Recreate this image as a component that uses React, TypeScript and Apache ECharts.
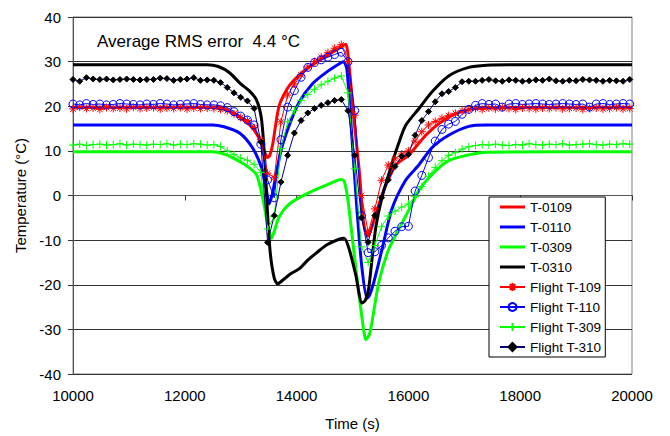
import React, { useEffect, useRef } from "react";
import * as echarts from "echarts";

// ---- Data ----
const X_TICKS = [10000, 12000, 14000, 16000, 18000, 20000];
const Y_TICKS = [-40, -30, -20, -10, 0, 10, 20, 30, 40];

// Model curves [time (s), temperature (°C)]
const T0109: [number, number][] = [
  [10000, 19.8], [12500, 19.8], [12700, 19.4], [12950, 17.8], [13160, 15.8], [13300, 13.5],
  [13420, 10.0], [13480, 8.5], [13520, 9.0], [13570, 11.3], [13690, 20.2], [13870, 24.6],
  [14170, 28.3], [14530, 31.2], [14810, 33.4], [14880, 33.9], [14940, 29.0], [15030, 16.6],
  [15120, 5.6], [15200, -6.3], [15270, -9.1], [15320, -8.0], [15420, -4.1], [15560, 1.2],
  [15780, 6.9], [16010, 9.1], [16310, 13.5], [16600, 16.6], [16950, 18.8], [17300, 19.6],
  [20000, 19.8],
];
const T0110: [number, number][] = [
  [10000, 15.8], [12500, 15.8], [12700, 15.4], [12980, 14.0], [13210, 10.7], [13370, 6.3],
  [13460, 1.2], [13510, -1.9], [13560, 0.0], [13600, 2.5], [13720, 10.0], [13870, 15.8],
  [14050, 21.0], [14280, 25.0], [14530, 27.6], [14800, 29.8], [14840, 30.0], [14900, 28.3],
  [14990, 12.9], [15080, -3.2], [15170, -16.4], [15260, -23.0], [15300, -22.5], [15380, -19.5],
  [15530, -12.0], [15700, -3.2], [15950, 3.4], [16190, 6.9], [16420, 10.7], [16720, 13.5],
  [17080, 15.5], [17400, 15.8], [20000, 15.8],
];
const T0309: [number, number][] = [
  [10000, 9.8], [12500, 9.8], [12700, 9.3], [12850, 8.5], [13100, 6.7], [13280, 4.7],
  [13390, -0.3], [13480, -6.3], [13550, -9.6], [13600, -8.0], [13690, -4.7], [13870, -1.9],
  [14170, 0.3], [14530, 2.3], [14800, 3.6], [14850, 3.2], [14900, 0.5], [14940, -3.2],
  [15060, -16.4], [15170, -27.4], [15240, -32.3], [15300, -31.2], [15350, -28.3], [15470, -19.5],
  [15650, -12.0], [15880, -6.3], [16040, -2.5], [16190, 1.2], [16420, 4.7], [16720, 7.8],
  [17080, 9.1], [17400, 9.7], [20000, 9.8],
];
const T0310: [number, number][] = [
  [10000, 29.3], [12400, 29.3], [12600, 28.9], [12800, 27.5], [13000, 25.0], [13150, 23.5],
  [13280, 21.5], [13370, 17.3], [13430, 8.0], [13480, -4.0], [13530, -13.0], [13600, -18.5],
  [13660, -19.8], [13750, -19.0], [13900, -17.5], [14050, -16.4], [14200, -14.5], [14350, -12.9],
  [14550, -11.0], [14760, -9.8], [14850, -9.6], [14940, -12.0], [15060, -17.9], [15170, -24.1],
  [15230, -23.5], [15290, -20.8], [15360, -13.0], [15420, -6.9], [15530, -0.3], [15700, 6.9],
  [15820, 11.5], [15950, 15.7], [16190, 19.5], [16420, 23.2], [16720, 26.8], [17080, 28.7],
  [17400, 29.2], [17800, 29.3], [20000, 29.3],
];

// Flight measurements, sampled times (s)
const FLIGHT_TIME = [
  10000, 10120, 10240, 10360, 10480, 10600, 10720, 10840, 10960, 11080,
  11200, 11320, 11440, 11560, 11680, 11800, 11920, 12040, 12160, 12280,
  12400, 12520, 12640, 12760, 12880, 13000, 13120, 13240, 13360, 13480,
  13600, 13720, 13840, 13960, 14080, 14200, 14320, 14440, 14560, 14680,
  14800, 14920, 15040, 15160, 15280, 15400, 15520, 15640, 15760, 15880,
  16000, 16120, 16240, 16360, 16480, 16600, 16720, 16840, 16960, 17080,
  17200, 17320, 17440, 17560, 17680, 17800, 17920, 18040, 18160, 18280,
  18400, 18520, 18640, 18760, 18880, 19000, 19120, 19240, 19360, 19480,
  19600, 19720, 19840, 19960,
];
const FLIGHT_T109 = [
  19.4, 19.8, 19.5, 19.6, 19.3, 19.7, 19.5, 19.6, 19.4, 19.8,
  19.5, 19.6, 19.7, 19.4, 19.6, 19.5, 19.7, 19.4, 19.6, 19.5,
  19.6, 19.5, 19.3, 19.0, 18.3, 17.5, 16.8, 15.2, 12.5, 5.0,
  4.0, 16.5, 22.5, 25.0, 27.0, 28.8, 30.0, 31.0, 32.0, 33.0,
  33.8, 30.0, 18.0, 0.0, -8.3, -3.0, 3.4, 6.8, 8.2, 9.3,
  10.0, 12.2, 14.3, 15.8, 16.6, 17.3, 17.9, 18.4, 19.0, 19.3,
  19.5, 19.3, 19.6, 19.4, 19.7, 19.5, 19.3, 19.6, 19.5, 19.4,
  19.6, 19.5, 19.7, 19.4, 19.5, 19.6, 19.3, 19.5, 19.6, 19.4,
  19.5, 19.7, 19.4, 19.5,
];
const FLIGHT_T110 = [
  20.5, 20.3, 20.6, 20.4, 20.5, 20.3, 20.4, 20.6, 20.5, 20.4,
  20.3, 20.5, 20.4, 20.6, 20.5, 20.3, 20.4, 20.5, 20.6, 20.4,
  20.3, 20.3, 20.1, 19.7, 18.8, 17.8, 16.9, 15.8, 11.5, 3.5,
  -0.5, 12.5, 19.8, 23.5, 26.5, 28.7, 29.8, 30.4, 31.0, 31.6,
  32.1, 30.0, 19.0, -4.5, -12.8, -12.6, -11.2, -9.5, -8.0, -7.0,
  -6.9, 1.0, 4.5, 8.5, 12.2, 14.8, 16.0, 16.6, 18.2, 19.3,
  20.2, 20.6, 20.4, 20.5, 19.8, 20.5, 20.6, 20.4, 20.5, 20.6,
  20.5, 20.4, 20.5, 20.6, 20.5, 20.4, 20.5, 19.8, 20.5, 20.6,
  20.4, 20.5, 20.6, 20.5,
];
const FLIGHT_T309 = [
  11.3, 11.5, 11.2, 11.4, 11.5, 11.3, 11.4, 11.6, 11.3, 11.5,
  11.4, 11.3, 11.5, 11.4, 11.6, 11.3, 11.5, 11.4, 11.6, 11.5,
  11.3, 11.4, 11.0, 10.0, 9.2, 8.4, 7.9, 7.0, 5.2, -7.5,
  -4.7, 10.5, 16.5, 19.0, 21.3, 22.6, 23.8, 24.8, 25.6, 26.3,
  26.8, 23.0, 6.0, -11.5, -15.0, -11.2, -7.0, -4.6, -3.5, -2.6,
  -1.9, -0.2, 2.0, 4.3, 6.3, 7.8, 9.0, 9.6, 10.4, 10.9,
  11.2, 11.4, 11.3, 11.5, 11.3, 11.2, 11.4, 11.3, 11.6, 11.4,
  11.3, 11.5, 11.4, 11.6, 11.3, 11.4, 11.5, 11.6, 11.4, 11.3,
  11.5, 11.4, 11.6, 11.5,
];
const FLIGHT_T310 = [
  26.0, 25.6, 26.4, 26.1, 26.0, 26.1, 25.9, 26.0, 26.1, 26.0,
  25.9, 26.0, 26.0, 26.3, 26.2, 25.8, 26.0, 26.1, 26.4, 25.8,
  25.9, 25.8, 25.3, 24.2, 23.0, 22.0, 21.2, 19.5, 12.0, -10.5,
  -4.5, 3.0, 9.0, 14.0, 16.8, 18.5, 19.5, 20.2, 20.8, 21.3,
  21.5, 19.0, 9.0, -5.0, -10.5, -4.5, -0.5, 3.5, 6.5, 8.8,
  9.2, 13.5, 16.8, 18.8, 21.0, 22.8, 23.3, 24.2, 25.5, 25.6,
  25.6, 25.8, 26.0, 25.7, 25.6, 25.9, 25.8, 25.6, 25.7, 25.9,
  25.8, 26.1, 25.7, 25.6, 25.8, 25.7, 26.0, 25.9, 25.8, 25.6,
  25.8, 25.7, 25.6, 26.0,
];

const FONT = '"Liberation Sans", Arial, sans-serif';
const STAR = "path://M0,5L10,5M5,0L5,10M1.5,1.5L8.5,8.5M8.5,1.5L1.5,8.5";
const PLUS = "path://M0,5L10,5M5,0L5,10";
const LINE_ICON = "path://M0,0H25V3H0Z";

const pair = (vals: number[]) => FLIGHT_TIME.map((t, i) => [t, vals[i]]);

export default function App() {
  const ref = useRef<HTMLDivElement>(null);
  useEffect(() => {
    if (!ref.current) return;
    const chart = echarts.init(ref.current, undefined, { renderer: "svg" });
    const model = (name: string, data: any, color: string) => ({
      name,
      type: "line",
      data,
      symbol: "none",
      smooth: 0.25,
      lineStyle: { color, width: 3 },
      itemStyle: { color },
      emphasis: { disabled: true },
    });
    const flight = (name: string, vals: number[], color: string, lineColor: string, symbol: string, size: number, fill: string) => ({
      name,
      type: "line",
      data: pair(vals),
      symbol,
      symbolSize: size,
      showAllSymbol: true,
      lineStyle: { color: lineColor, width: 1 },
      itemStyle: { color: fill, borderColor: color, borderWidth: 1 },
      emphasis: { disabled: true },
    });
    chart.setOption({
      animation: false,
      backgroundColor: "#fff",
      textStyle: { fontFamily: FONT },
      grid: {
        left: 73, right: 38, top: 17, bottom: 56,
        show: true, borderColor: "#808080", borderWidth: 1,
      },
      xAxis: {
        type: "value",
        min: X_TICKS[0],
        max: X_TICKS[X_TICKS.length - 1],
        interval: 2000,
        name: "Time (s)",
        nameLocation: "middle",
        nameGap: 42,
        nameTextStyle: { fontSize: 15, color: "#000", fontFamily: FONT },
        axisLine: { lineStyle: { color: "#555", width: 1 } },
        axisTick: { show: true, length: 5, lineStyle: { color: "#333" } },
        axisLabel: {
          fontSize: 15, color: "#000", margin: 14, fontFamily: FONT,
          formatter: (v: number) => String(v),
        },
        splitLine: { show: false },
      },
      yAxis: {
        type: "value",
        min: Y_TICKS[0],
        max: Y_TICKS[Y_TICKS.length - 1],
        interval: 10,
        name: "Temperature (°C)",
        nameLocation: "middle",
        nameGap: 40,
        nameRotate: 90,
        nameTextStyle: { fontSize: 15, color: "#000", fontFamily: FONT },
        axisLine: { show: true, lineStyle: { color: "#555", width: 1 } },
        axisTick: { show: true, length: 5, lineStyle: { color: "#333" } },
        axisLabel: { fontSize: 15, color: "#000", margin: 12, fontFamily: FONT },
        splitLine: { show: true, lineStyle: { color: "#333", width: 1 } },
      },
      legend: {
        orient: "vertical",
        left: 489,
        top: 197,
        padding: [3, 4, 3, 10],
        itemWidth: 25,
        itemHeight: 10,
        itemGap: 6,
        backgroundColor: "#fff",
        borderColor: "#000",
        borderWidth: 1,
        borderRadius: 0,
        textStyle: { fontSize: 13.5, color: "#000", fontFamily: FONT },
        selectedMode: false,
        data: [
          { name: "T-0109", icon: LINE_ICON },
          { name: "T-0110", icon: LINE_ICON },
          { name: "T-0309", icon: LINE_ICON },
          { name: "T-0310", icon: LINE_ICON },
          "Flight T-109", "Flight T-110", "Flight T-309", "Flight T-310",
        ],
      },
      graphic: [
        {
          type: "text",
          x: 97,
          y: 41,
          style: {
            text: "Average RMS error  4.4 °C",
            font: `17px ${FONT}`,
            fill: "#000",
            verticalAlign: "middle",
          },
        },
      ],
      series: [
        model("T-0109", T0109, "#ff0000"),
        model("T-0110", T0110, "#0000ff"),
        model("T-0309", T0309, "#00ff00"),
        model("T-0310", T0310, "#000000"),
        flight("Flight T-109", FLIGHT_T109, "#ff0000", "#ff0000", STAR, 8, "#ff0000"),
        flight("Flight T-110", FLIGHT_T110, "#0000ff", "#0000ff", "circle", 8, "rgba(0,0,0,0)"),
        flight("Flight T-309", FLIGHT_T309, "#00ff00", "#00ff00", PLUS, 8, "#00ff00"),
        flight("Flight T-310", FLIGHT_T310, "#000000", "#000080", "diamond", 6, "#000000"),
      ],
    });
    return () => chart.dispose();
  }, []);
  return (
    <div
      ref={ref}
      style={{ position: "fixed", left: 0, top: 0, width: 670, height: 436 }}
    />
  );
}
